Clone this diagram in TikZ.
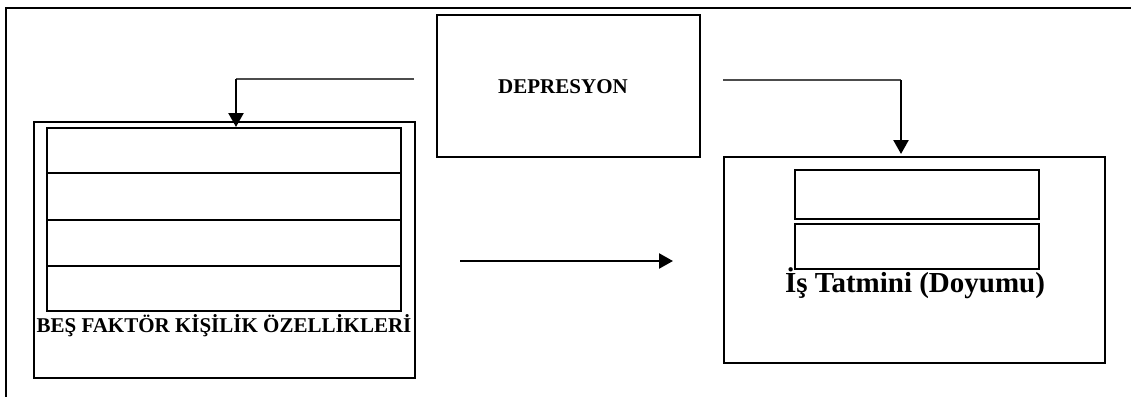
\documentclass[tikz,border=0pt]{standalone}
\usepackage{fontspec}
\setmainfont{Liberation Serif}
\usetikzlibrary{arrows.meta}
\begin{document}
\begin{tikzpicture}[x=1pt,y=-1pt,
  box/.style={draw=black,line width=2.4pt,rectangle,inner sep=0pt,anchor=north west},
  thinline/.style={draw=black!70,line width=1.5pt},
  arr/.style={draw=black,line width=2.4pt,-{Triangle[length=14pt,width=15pt]}},
  lbl/.style={font=\fontsize{21}{25}\selectfont\bfseries,inner sep=0pt},
  biglbl/.style={font=\fontsize{29}{34}\selectfont\bfseries,inner sep=0pt}]
\useasboundingbox (0,0) rectangle (1131,396);
% outer frame (only top and left visible)
\draw[line width=2.4pt] (6,400) -- (6,8) -- (1135,8);
% depression box
\node[box,minimum width=263pt,minimum height=142pt] (dep) at (436,14) {};
\node[lbl] (deptxt) at (563,87) {DEPRESYON};
% left big box
\node[box,minimum width=381pt,minimum height=256pt] (lbox) at (33,121) {};
\node[box,minimum width=354pt,minimum height=45pt] (r1) at (46,127) {};
\node[box,minimum width=354pt,minimum height=47pt] (r2) at (46,172) {};
\node[box,minimum width=354pt,minimum height=46pt] (r3) at (46,219) {};
\node[box,minimum width=354pt,minimum height=45pt] (r4) at (46,265) {};
\node[lbl] (ltxt) at (224,326) {BEŞ FAKTÖR KİŞİLİK ÖZELLİKLERİ};
% right big box
\node[box,minimum width=381pt,minimum height=206pt] (rbox) at (723,156) {};
\node[box,minimum width=244pt,minimum height=49pt] (s1) at (794,169) {};
\node[box,minimum width=244pt,minimum height=45pt] (s2) at (794,223) {};
\node[biglbl] (rtxt) at (915,283) {İş Tatmini (Doyumu)};
% connectors
\coordinate (la) at (414,79);
\coordinate (lb) at (236,79);
\coordinate (lc) at (236,127);
\coordinate (ra) at (723,80);
\coordinate (rb) at (901,80);
\coordinate (rc) at (901,154);
\coordinate (ma) at (460,261);
\coordinate (mb) at (673,261);
\draw[thinline] (la) -- (lb);
\draw[arr] (lb) -- (lc);
\draw[thinline] (ra) -- (rb);
\draw[arr] (rb) -- (rc);
\draw[arr] (ma) -- (mb);
\end{tikzpicture}
\end{document}
